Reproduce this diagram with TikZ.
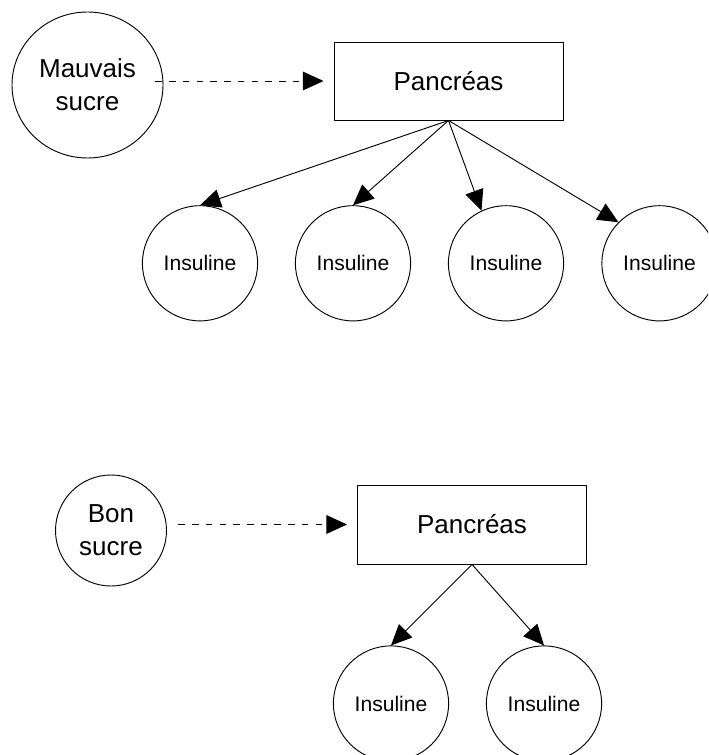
\documentclass[tikz,border=0pt]{standalone}
\usepackage{fontspec}
\setmainfont{Liberation Sans}
\usetikzlibrary{arrows.meta,shapes.geometric}

\tikzset{
  organ/.style={draw, line width=0.7pt, rectangle, inner sep=0pt,
    minimum width=171.75pt, font=\fontsize{19.5pt}{25pt}\selectfont},
  sugar/.style={draw, line width=0.7pt, inner sep=0pt, align=center,
    font=\fontsize{19.5pt}{25pt}\selectfont},
  hormone/.style={draw, line width=0.7pt, circle, inner sep=0pt,
    minimum size=86.4pt, font=\fontsize{15.8pt}{19pt}\selectfont},
  feed/.style={line width=0.7pt, dash pattern=on 4.9pt off 5.4pt,
    -{Triangle[length=15.5pt,width=14pt]}},
  release/.style={line width=0.7pt, -{Triangle[length=15.5pt,width=14pt]}}
}

\begin{document}
\begin{tikzpicture}[x=0.75pt, y=-0.75pt]
  \useasboundingbox (0,0) rectangle (708,755);
  \clip (0,0) rectangle (708,755);

  % high blood sugar: many insulin releases
  \node[sugar, ellipse, minimum width=113.25pt, minimum height=109.5pt]
    (bad) at (87.5,85) {Mauvais\\sucre};
  \node[organ, minimum height=58.5pt] (pan1) at (448.5,81) {Pancréas};
  \node[hormone] (i1) at (200,263.3) {Insuline};
  \node[hormone] (i2) at (353,263.3) {Insuline};
  \node[hormone] (i3) at (506,263.3) {Insuline};
  \node[hormone] (i4) at (659.5,263.3) {Insuline};

  \draw[feed, shorten >=7.5pt] ([xshift=-6pt]bad.east |- pan1.west) -- (pan1.west);
  \draw[release] (pan1.south) -- (i1.north);
  \draw[release] (pan1.south) -- (i2.north);
  \draw[release] (pan1.south) -- (i3.115);
  \draw[release] (pan1.south) -- (i4.135);

  % normal blood sugar: two insulin releases
  \node[sugar, circle, minimum size=83.25pt] (good) at (111,530.5) {Bon\\sucre};
  \node[organ, minimum height=59.25pt] (pan2) at (472,524.5) {Pancréas};
  \node[hormone] (j1) at (391,703.5) {Insuline};
  \node[hormone] (j2) at (544,703.5) {Insuline};

  \draw[feed, shorten <=8.5pt, shorten >=7.5pt] (good.east |- pan2.west) -- (pan2.west);
  \draw[release] (pan2.south) -- (j1.north);
  \draw[release] (pan2.south) -- (j2.north);
\end{tikzpicture}
\end{document}
